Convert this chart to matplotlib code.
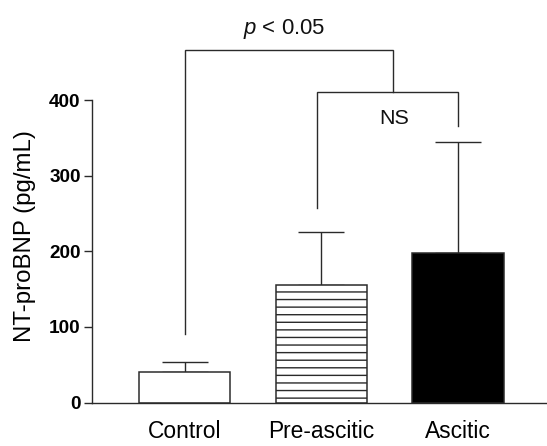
import matplotlib
matplotlib.use("Agg")
import matplotlib.pyplot as plt

# Data
categories = ["Control", "Pre-ascitic", "Ascitic"]
means = [40.5, 156, 198]
errors = [13.5, 69.5, 147]
yticks = [0, 100, 200, 300, 400]
# brackets: (left x, right x, top y, left leg bottom y, right leg bottom y)
bracket_ns = (0.97, 2.0, 411, 257, 366)
bracket_p = (0.0, 1.52, 466, 91, 411)
label_p = "$p$ < 0.05"
label_ns = "NS"

DPI = 91
plt.rcParams['font.family'] = ['Liberation Sans', 'DejaVu Sans']
plt.rcParams['mathtext.fontset'] = 'custom'
plt.rcParams['mathtext.rm'] = 'Liberation Sans'
plt.rcParams['mathtext.it'] = 'Liberation Sans:italic'
plt.rcParams['hatch.linewidth'] = 1.1
plt.rcParams['hatch.color'] = '#222222'

fig = plt.figure(figsize=(547 / DPI, 446 / DPI), dpi=DPI)
ax = fig.add_axes([92.4 / 547, (446 - 402.5) / 446, 1 - 92.4 / 547, 402.5 / 446])

lc = '#2a2a2a'
x = list(range(len(categories)))
faces = ['white', 'white', 'black']
hatches = [None, '--', None]
for xi, m, f, h in zip(x, means, faces, hatches):
    ax.bar(xi, m, width=0.67, color=f, edgecolor=lc, linewidth=1.2, hatch=h, zorder=2)

ax.errorbar(x, means, yerr=[[0] * 3, errors], fmt='none', ecolor=lc,
            elinewidth=1.1, capsize=18, capthick=1.1, zorder=1)

def bracket(b):
    xl, xr, top, bl, br = b
    ax.plot([xl, xl, xr, xr], [bl, top, top, br], color=lc, lw=1.1,
            clip_on=False, solid_joinstyle='miter')

bracket(bracket_ns)
bracket(bracket_p)

ax.text(0.725, 488, label_p, ha='center', va='baseline', fontsize=17.5, color='#111111')
ax.text(1.53, 376, label_ns, ha='center', va='center', fontsize=17, color='#111111')

ax.set_xlim(-0.675, 2.65)
ax.set_ylim(0, 402.5 / 0.756)
ax.set_yticks(yticks)
ax.set_yticklabels([str(t) for t in yticks], fontweight='bold', fontsize=15)
ax.set_xticks(x)
ax.set_xticklabels(categories, fontsize=18)
ax.tick_params(axis='y', length=6.3, width=1.1, pad=3, color=lc)
ax.tick_params(axis='x', length=0, pad=13.5)

for s in ['top', 'right']:
    ax.spines[s].set_visible(False)
ax.spines['left'].set_bounds(0, 400)
ax.spines['left'].set_color(lc)
ax.spines['bottom'].set_color(lc)
ax.spines['left'].set_linewidth(1.1)
ax.spines['bottom'].set_linewidth(1.1)

ax.set_ylabel("NT-proBNP (pg/mL)", fontsize=19)
ax.yaxis.set_label_coords(-(92.4 - 36) / (547 - 92.4), (402.5 - 236.5) / 402.5)

fig.savefig("out.png", dpi=DPI)
